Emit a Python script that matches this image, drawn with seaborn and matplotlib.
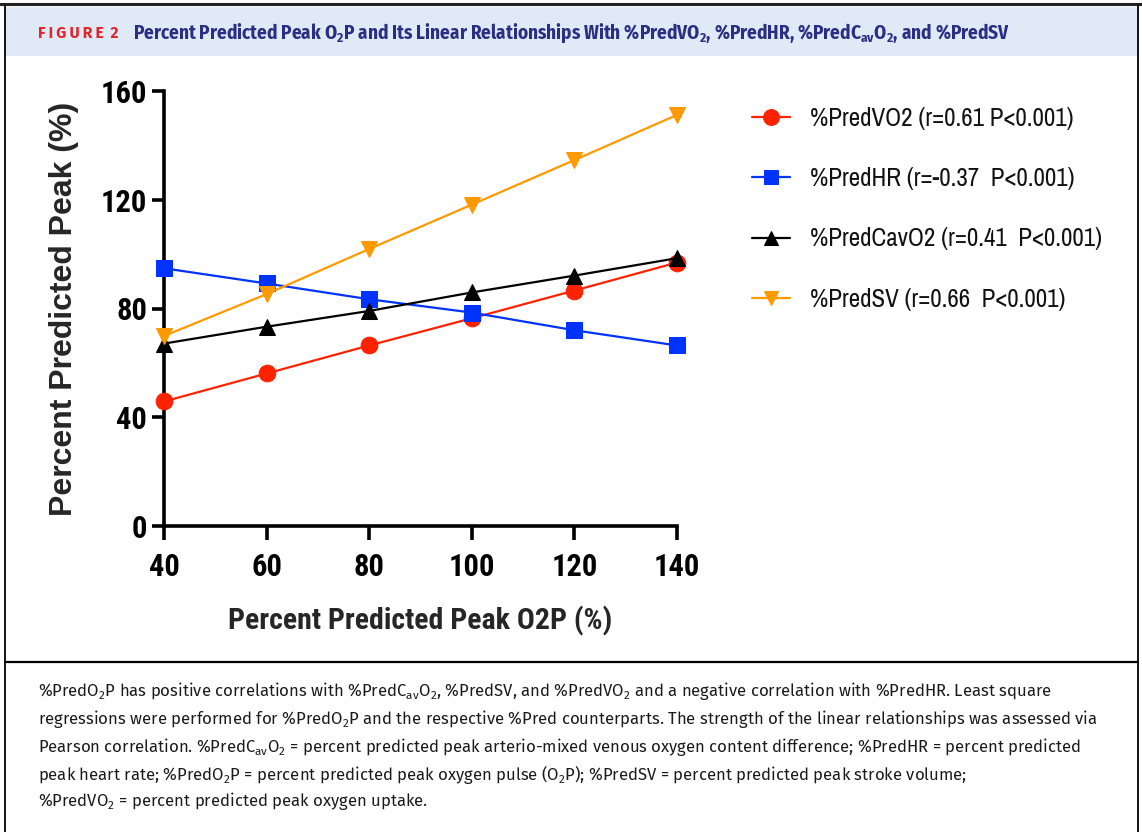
import matplotlib
matplotlib.use("Agg")
import matplotlib.pyplot as plt
import seaborn as sns
import pandas as pd
from matplotlib.patches import Rectangle
from matplotlib.lines import Line2D

# ---- data ----
x_vals = [40, 60, 80, 100, 120, 140]
pred_vo2 = [45.8, 56.1, 66.4, 76.4, 86.6, 96.9]
pred_hr = [94.8, 89.2, 83.4, 78.5, 72.0, 66.4]
pred_cavo2 = [67.1, 73.3, 79.1, 85.9, 92.1, 98.5]
pred_sv = [69.9, 85.3, 101.9, 118.2, 134.6, 151.2]
series_labels = ["%PredVO2 (r=0.61 P<0.001)",
                 "%PredHR (r=-0.37  P<0.001)",
                 "%PredCavO2 (r=0.41  P<0.001)",
                 "%PredSV (r=0.66  P<0.001)"]
x_ticks = [40, 60, 80, 100, 120, 140]
y_ticks = [0, 40, 80, 120, 160]

colors = ["#FF2200", "#0033FF", "#000000", "#FF9900"]
markers = ["o", "s", "^", "v"]
msizes = [12, 11, 11, 11]

COND = ["Roboto Condensed", "Archivo Narrow", "Liberation Sans", "DejaVu Sans"]
NARROW = ["Archivo Narrow", "Roboto Condensed", "Liberation Sans", "DejaVu Sans"]
ARIAL = ["Liberation Sans", "DejaVu Sans"]
FIRA = ["Fira Sans", "Open Sans", "DejaVu Sans"]
FIRAC = ["Fira Sans Condensed", "Roboto Condensed", "DejaVu Sans"]

sns.set_theme(style="ticks")
plt.rcParams["font.family"] = COND

fig = plt.figure(figsize=(11.42, 8.32), dpi=100)
W, H = 1142, 832

def fx(px):
    return px / W

def fy(py):
    return 1 - py / H

# ---- frame / header ----
fig.add_artist(Rectangle((fx(5), fy(56)), fx(1133), fy(7) - fy(56), transform=fig.transFigure,
                         facecolor="#DFEAF6", edgecolor="none", zorder=0))
fig.add_artist(Line2D([fx(0), fx(1142)], [fy(3.5), fy(3.5)], transform=fig.transFigure, color="#222222", lw=2.2))
fig.add_artist(Line2D([fx(5), fx(5)], [fy(5), fy(832)], transform=fig.transFigure, color="black", lw=1.3))
fig.add_artist(Line2D([fx(1138), fx(1138)], [fy(5), fy(832)], transform=fig.transFigure, color="black", lw=1.3))
fig.add_artist(Line2D([fx(5), fx(1138)], [fy(662), fy(662)], transform=fig.transFigure, color="black", lw=1.6))

fig.text(fx(38), fy(33), "F\u2009I\u2009G\u2009U\u2009R\u2009E\u2009 2", color="#E3242B", fontsize=11.2,
         fontweight="bold", va="center", ha="left", family=FIRA)
fig.text(fx(133), fy(33),
         r"Percent Predicted Peak O$_\mathregular{2}$P and Its Linear Relationships With %PredVO$_\mathregular{2}$, "
         r"%PredHR, %PredC$_\mathregular{av}$O$_\mathregular{2}$, and %PredSV",
         color="#2B2E83", fontsize=13.8, fontweight="bold", va="center", ha="left", family=FIRAC)

# ---- chart ----
ax = fig.add_axes([fx(164), fy(526), fx(677) - fx(164), fy(91) - fy(526)])
df = pd.DataFrame({"x": x_vals * 4,
                   "y": pred_vo2 + pred_hr + pred_cavo2 + pred_sv,
                   "series": sum([[s] * len(x_vals) for s in series_labels], [])})
for lab, c, m, ms in zip(series_labels, colors, markers, msizes):
    sub = df[df["series"] == lab]
    sns.lineplot(data=sub, x="x", y="y", ax=ax, color=c, marker=m, markersize=ms,
                 markeredgecolor=c, linewidth=1.6, label=lab, clip_on=False, zorder=3)

ax.set_xlim(40, 140)
ax.set_ylim(0, 160)
ax.set_xticks(x_ticks)
ax.set_yticks(y_ticks)
for s in ["top", "right"]:
    ax.spines[s].set_visible(False)
for s in ["left", "bottom"]:
    ax.spines[s].set_linewidth(2.6)
    ax.spines[s].set_color("black")
ax.tick_params(axis="y", length=9, width=2.6, pad=3, labelsize=22, colors="black")
ax.tick_params(axis="x", length=10, width=2.6, pad=9, labelsize=22, colors="black")
for t in ax.get_xticklabels() + ax.get_yticklabels():
    t.set_fontweight("bold")
ax.set_xlabel("Percent Predicted Peak O2P (%)", fontsize=21.5, fontweight="bold", labelpad=17)
ax.set_ylabel("Percent Predicted Peak (%)", fontsize=23, fontweight="bold", labelpad=16,
              family=ARIAL)
ax.set_facecolor("none")

leg = ax.legend(loc="upper left", bbox_to_anchor=(fx(739), fy(94)), bbox_transform=fig.transFigure,
                frameon=False, handlelength=1.55, handletextpad=0.8,
                labelspacing=1.5, borderpad=0, markerscale=0.95,
                prop={"family": NARROW, "size": 18})
for t in leg.get_texts():
    t.set_color("#111111")

# ---- caption ----
cap_lines = [
    r"%PredO$_\mathregular{2}$P has positive correlations with %PredC$_\mathregular{av}$O$_\mathregular{2}$, %PredSV, and %PredVO$_\mathregular{2}$ and a negative correlation with %PredHR. Least square",
    r"regressions were performed for %PredO$_\mathregular{2}$P and the respective %Pred counterparts. The strength of the linear relationships was assessed via",
    r"Pearson correlation. %PredC$_\mathregular{av}$O$_\mathregular{2}$ = percent predicted peak arterio-mixed venous oxygen content difference; %PredHR = percent predicted",
    r"peak heart rate; %PredO$_\mathregular{2}$P = percent predicted peak oxygen pulse (O$_\mathregular{2}$P); %PredSV = percent predicted peak stroke volume;",
    r"%PredVO$_\mathregular{2}$ = percent predicted peak oxygen uptake.",
]
cap_y = [691, 719, 747, 774, 801]
for line, yy in zip(cap_lines, cap_y):
    fig.text(fx(38), fy(yy), line, fontsize=12, color="#1a1a1a", va="center", ha="left",
             family=FIRA)

fig.savefig("out.png", dpi=100)
